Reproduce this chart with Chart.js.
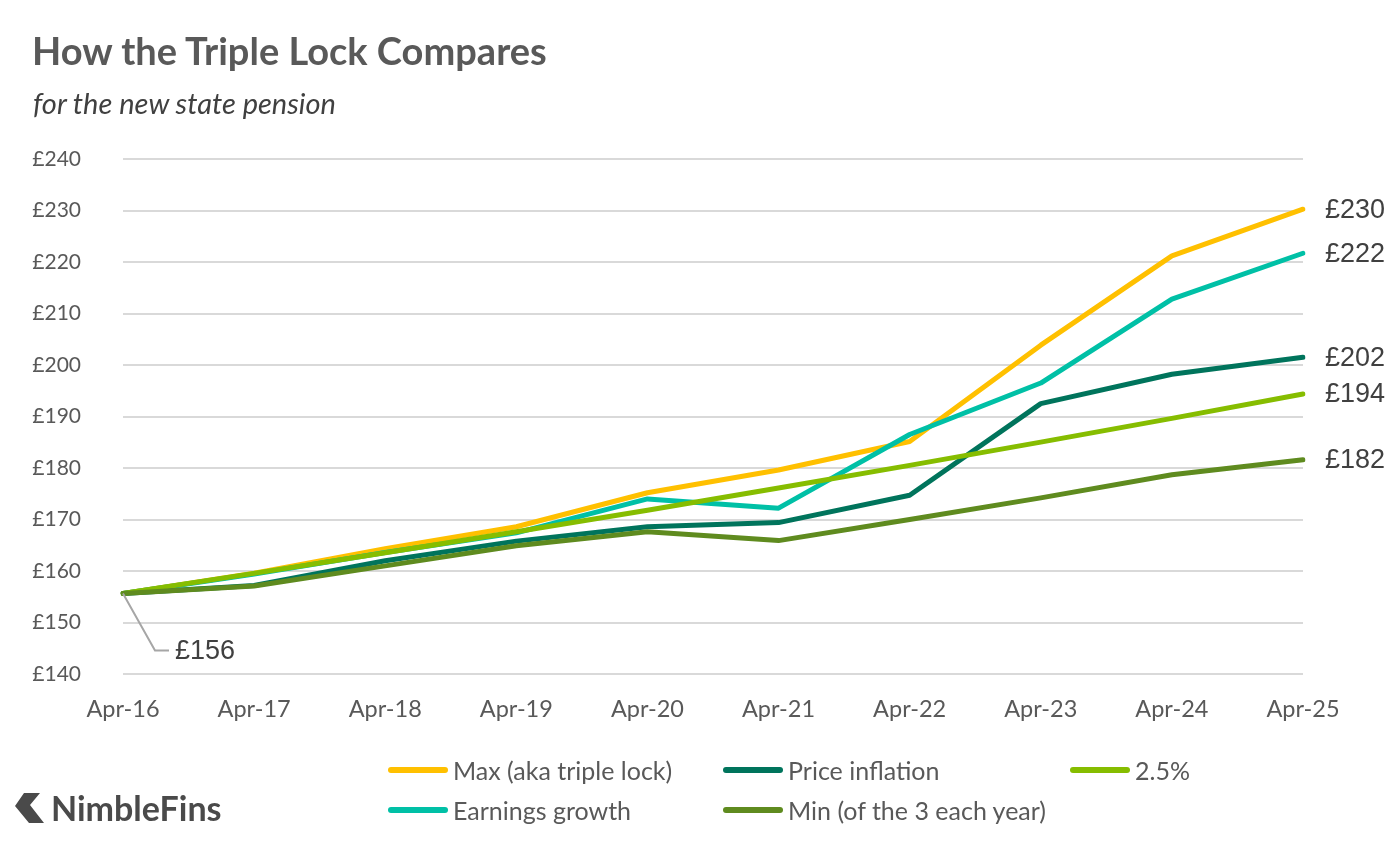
<!DOCTYPE html>
<html>
<head>
<meta charset="UTF-8">
<title>How the Triple Lock Compares</title>
<script src="https://cdn.jsdelivr.net/npm/chart.js@4/dist/chart.umd.min.js"></script>
<style>
  html, body { margin: 0; padding: 0; background: #ffffff; }
  #wrap { position: relative; width: 1400px; height: 852px; overflow: hidden; }
  #chart_box { position: absolute; left: 0; top: 0; width: 1400px; height: 852px; }
  .title {
    position: absolute; left: 32px; top: 27px;
    font-family: Lato, sans-serif; font-weight: bold; font-size: 38px; color: #595959;
  }
  .subtitle {
    position: absolute; left: 33px; top: 85px;
    font-family: Lato, sans-serif; font-style: italic; font-size: 29px; color: #404040;
  }
  .legend {
    position: absolute; left: 388px; top: 750px;
    display: grid; grid-template-columns: 335px 347px auto; grid-auto-rows: 40px;
    font-family: Lato, sans-serif; font-size: 25px; color: #595959;
  }
  .legend-item { display: flex; align-items: center; }
  .legend-line { width: 60px; height: 6px; border-radius: 3px; margin-right: 5px; }
  .logo {
    position: absolute; left: 14px; top: 787px; display: flex; align-items: center;
    font-family: Lato, sans-serif; font-weight: bold; font-size: 34px; color: #4a4a4a;
  }
  .logo svg { margin-right: 6px; }
</style>
</head>
<body>
<div id="wrap">
  <div id="chart_box"><canvas id="mychart" width="1400" height="852"></canvas></div>
  <div class="title">How the Triple Lock Compares</div>
  <div class="subtitle">for the new state pension</div>
  <div class="legend" id="legend"></div>
  <div class="logo">
    <svg width="31" height="32" viewBox="0 0 31 32">
      <polygon points="10,1 26,1 16,13 30,31 15,31 1,14" fill="#4a4a4a"/>
    </svg>NimbleFins
  </div>
</div>
<script>
const labelsList = ['Apr-16', 'Apr-17', 'Apr-18', 'Apr-19', 'Apr-20', 'Apr-21', 'Apr-22', 'Apr-23', 'Apr-24', 'Apr-25'];
const maxList = [155.65, 159.55, 164.35, 168.60, 175.20, 179.60, 185.15, 203.85, 221.20, 230.25];
const earningsList = [155.65, 159.4, 163.6, 167.4, 174.0, 172.2, 186.5, 196.5, 212.8, 221.7];
const priceList = [155.65, 157.2, 162.0, 165.8, 168.6, 169.4, 174.7, 192.5, 198.2, 201.5];
const fixedList = [155.65, 159.54, 163.53, 167.62, 171.81, 176.10, 180.51, 185.02, 189.64, 194.38];
const minList = [155.65, 157.1, 161.0, 164.9, 167.6, 165.9, 170.0, 174.2, 178.7, 181.6];
const yTicks = [140, 150, 160, 170, 180, 190, 200, 210, 220, 230, 240];

const MAX_LABEL = 'Max (aka triple lock)';
const EARN_LABEL = 'Earnings growth';
const PRICE_LABEL = 'Price inflation';
const FIXED_LABEL = '2.5%';
const MIN_LABEL = 'Min (of the 3 each year)';

const startLabel = '£156';
const gridColor = '#d9d9d9';
const tickColor = '#595959';

// legend order matches the reference (row by row)
const legendOrder = [MAX_LABEL, PRICE_LABEL, FIXED_LABEL, EARN_LABEL, MIN_LABEL];

function makeSet(label, data, color, order) {
  return {
    label: label,
    data: data,
    borderColor: color,
    backgroundColor: color,
    borderWidth: 5,
    pointRadius: 0,
    tension: 0,
    borderCapStyle: 'round',
    borderJoinStyle: 'round',
    order: order,
  };
}

const endLabels = {
  id: 'endLabels',
  afterDatasetsDraw(chart) {
    const ctx = chart.ctx;
    const xs = chart.scales.x;
    const ys = chart.scales.y;
    ctx.save();
    ctx.font = '27px "Liberation Sans", Arial, sans-serif';
    ctx.fillStyle = '#404040';
    ctx.textBaseline = 'middle';
    chart.data.datasets.forEach(ds => {
      const last = ds.data[ds.data.length - 1];
      const px = xs.getPixelForValue(ds.data.length - 1);
      const py = ys.getPixelForValue(last);
      ctx.fillText('£' + Math.round(last), px + 22, py + 1);
    });
    // leader line for the starting value
    const x0 = xs.getPixelForValue(0);
    const y0 = ys.getPixelForValue(maxList[0]);
    ctx.strokeStyle = '#a6a6a6';
    ctx.lineWidth = 2;
    ctx.beginPath();
    ctx.moveTo(x0, y0);
    ctx.lineTo(x0 + 32, y0 + 57);
    ctx.lineTo(x0 + 46, y0 + 57);
    ctx.stroke();
    ctx.fillText(startLabel, x0 + 52, y0 + 58);
    ctx.restore();
  }
};

const datasets = [
  makeSet(MAX_LABEL, maxList, '#ffc000', 4),
  makeSet(EARN_LABEL, earningsList, '#00c0a6', 3),
  makeSet(PRICE_LABEL, priceList, '#00745c', 2),
  makeSet(FIXED_LABEL, fixedList, '#86bd00', 1),
  makeSet(MIN_LABEL, minList, '#5f8b1f', 0),
];

let ctx = document.getElementById('mychart');
var myChart = new Chart(ctx, {
  type: 'line',
  data: { labels: labelsList, datasets: datasets },
  plugins: [endLabels],
  options: {
    responsive: false,
    maintainAspectRatio: false,
    animation: false,
    layout: { padding: { left: 0, right: 97, top: 159, bottom: 128 } },
    plugins: { legend: { display: false }, tooltip: { enabled: false } },
    scales: {
      x: {
        offset: false,
        grid: { display: false, drawTicks: false },
        border: { display: false },
        ticks: {
          color: tickColor, padding: 21, maxRotation: 0, autoSkip: false,
          font: { family: 'Lato', size: 23.5 }
        },
        afterFit(scale) { scale.height = 50; }
      },
      y: {
        min: 140, max: 240,
        afterBuildTicks(scale) { scale.ticks = yTicks.map(v => ({ value: v })); },
        grid: { color: gridColor, lineWidth: 2, drawTicks: false },
        border: { display: false },
        ticks: {
          color: tickColor, padding: 42,
          font: { family: 'Lato', size: 21 },
          callback: v => '£' + v
        },
        afterFit(scale) { scale.width = 123; }
      }
    }
  }
});

// html legend built from the datasets
const legendBox = document.getElementById('legend');
legendOrder.forEach(name => {
  const ds = datasets.find(d => d.label === name);
  const item = document.createElement('div');
  item.className = 'legend-item';
  item.innerHTML = '<span class="legend-line" style="background:' + ds.borderColor + '"></span>' + ds.label;
  legendBox.appendChild(item);
});
</script>
</body>
</html>
